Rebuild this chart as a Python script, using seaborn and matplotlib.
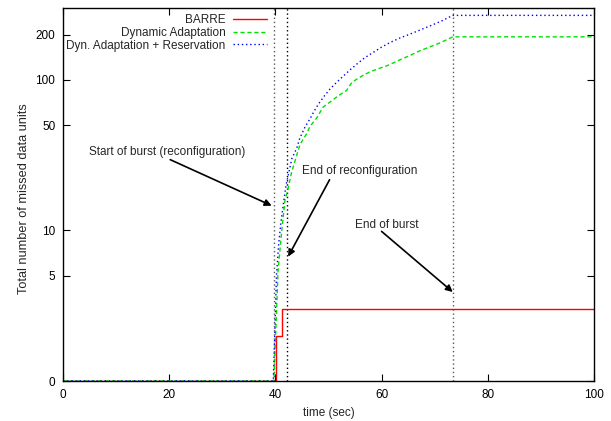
import matplotlib
matplotlib.use("Agg")
import matplotlib.pyplot as plt
import seaborn as sns
import numpy as np
import pandas as pd

# ---- data ----
barre_t = [0, 40.06, 41.2, 100]
barre_v = [1, 2, 3, 3]

dyn_t = [0, 39.7, 40.2, 40.5, 41.2, 41.8, 42.4, 43.0, 43.7, 44.6, 45.9, 46.5, 47.8,
         49.0, 50.0, 50.9, 52.0, 53.4, 54.3, 55.3, 56.5, 57.8, 59.5, 61.0, 62.5,
         64.1, 65.5, 67.2, 69.0, 71.0, 73.4, 100]
dyn_v = [1, 1, 2.8, 5.4, 10, 15.8, 19, 24, 29, 37, 44, 49, 56,
         66, 70, 74, 79, 85, 95, 101, 107, 113, 119, 124, 131,
         139, 146, 156, 165, 176, 193, 193]

res_t = [0, 39.6, 39.9, 40.2, 40.6, 41.0, 41.5, 42.0, 42.5, 43.1, 44.0, 44.6, 45.5,
         46.5, 47.3, 48.1, 49.2, 50.3, 51.5, 52.8, 54.0, 55.3, 56.8, 58.4, 60.0,
         61.6, 63.5, 65.3, 67.2, 69.1, 71.2, 73.4, 100]
res_v = [1, 1, 2.2, 5, 8, 11, 15, 20, 24, 30, 35, 41, 48,
         55, 62, 69, 78, 87, 96, 106, 116, 127, 140, 152, 165,
         177, 190, 201, 214, 228, 245, 268, 268]

series_names = ["BARRE", "Dynamic Adaptation", "Dyn. Adaptation + Reservation"]

vlines_t = [39.8, 42.1, 73.4]

y_ticks = [1, 5, 10, 50, 100, 200]
y_ticklabels = ["0", "5", "10", "50", "100", "200"]
x_ticks = [0, 20, 40, 60, 80, 100]

annotations = [
    ("Start of burst (reconfiguration)", (19.7, 33), (20.2, 29.5), (39.3, 14.6)),
    ("End of reconfiguration", (55.9, 24.7), (50.2, 21.7), (42.4, 6.7)),
    ("End of burst", (61.0, 10.8), (60.0, 9.85), (73.4, 3.9)),
]

# ---- plotting ----
sns.set_style("ticks")
plt.rcParams["font.family"] = ["Liberation Sans", "DejaVu Sans"]
FS = 8.5

fig = plt.figure(figsize=(6.11, 4.21), dpi=100)
ax = fig.add_axes([63 / 611, 1 - 381 / 421, (594 - 63) / 611, (381 - 8) / 421])

sns.lineplot(x=barre_t, y=barre_v, ax=ax, color="#ff0000", linewidth=1.0,
             drawstyle="steps-post", label=series_names[0], estimator=None, sort=False)
sns.lineplot(x=dyn_t, y=dyn_v, ax=ax, color="#00e000", linewidth=1.0,
             linestyle=(0, (3, 2)), label=series_names[1], estimator=None, sort=False)
sns.lineplot(x=res_t, y=res_v, ax=ax, color="#0000ff", linewidth=1.0,
             linestyle=(0, (1, 2)), label=series_names[2], estimator=None, sort=False)

for i, t in enumerate(vlines_t):
    ax.axvline(t, color="black" if i == 1 else "0.35", linewidth=1.0,
               linestyle=(0, (1, 2)), zorder=1)

for text, tpos, start, end in annotations:
    ax.text(tpos[0], tpos[1], text, ha="center", va="center", fontsize=FS)
    ax.annotate("", xy=end, xytext=start,
                arrowprops=dict(arrowstyle="-|>", color="black", lw=1.2,
                                mutation_scale=10, shrinkA=0, shrinkB=0))

ax.set_yscale("log")
ax.set_xlim(0, 100)
ax.set_ylim(1, 300)
ax.set_xticks(x_ticks)
ax.set_xticklabels([str(v) for v in x_ticks])
ax.set_yticks(y_ticks)
ax.set_yticklabels(y_ticklabels)
ax.minorticks_off()
ax.tick_params(axis="both", which="both", direction="in", length=5, width=0.8,
               top=True, right=True, labelsize=FS, colors="black")
ax.tick_params(axis="x", pad=6)
ax.tick_params(axis="y", pad=5.5)
for s in ax.spines.values():
    s.set_color("black")
    s.set_linewidth(1.0)

ax.set_xlabel("time (sec)", fontsize=FS, labelpad=4)
ax.set_ylabel("Total number of missed data units", fontsize=9.2)
ax.yaxis.set_label_coords(-0.062, 0.49)

leg = ax.legend(loc="upper right", bbox_to_anchor=(0.384, 0.983), markerfirst=False,
                frameon=False, fontsize=FS, handlelength=2.9, handletextpad=0.62,
                labelspacing=0.05, borderaxespad=0.0, borderpad=0.0)
for t in leg.get_texts():
    t.set_ha("right")
leg._legend_box.align = "right"

fig.savefig("out.png", dpi=100)
